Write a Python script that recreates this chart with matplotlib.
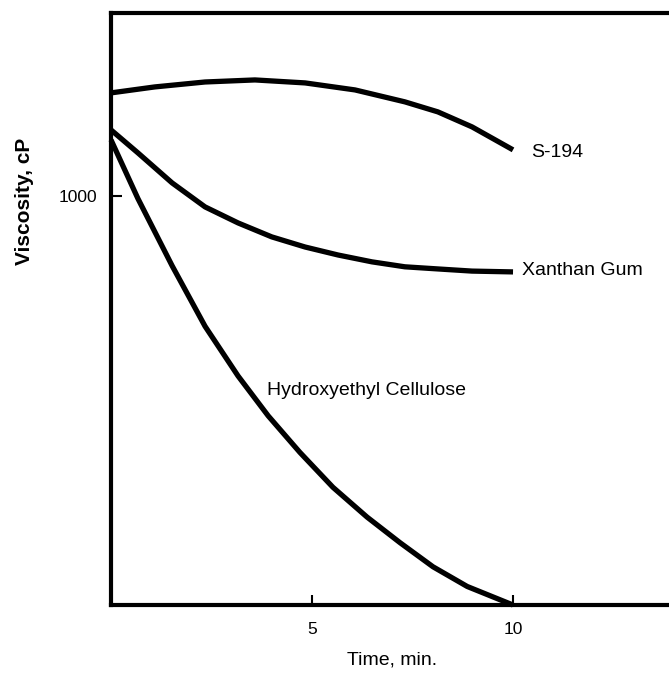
import matplotlib
matplotlib.use("Agg")
import matplotlib.pyplot as plt

plt.rcParams['font.family'] = ['Liberation Sans', 'DejaVu Sans']

# Data (time in min, viscosity in cP, log scale)
s194_t = [0, 1.09, 2.34, 3.58, 4.83, 6.07, 7.31, 8.13, 8.98, 10.0]
s194_v = [1786, 1847, 1899, 1921, 1889, 1816, 1698, 1605, 1475, 1296]

xan_t = [0, 0.67, 1.52, 2.34, 3.16, 4.0, 4.83, 5.65, 6.49, 7.31, 8.13, 8.98, 10.0]
xan_v = [1450, 1274, 1076, 940, 859, 794, 750, 717, 690, 671, 663, 655, 652]

hec_t = [0, 0.67, 1.52, 2.34, 3.16, 3.91, 4.70, 5.52, 6.37, 7.19, 8.01, 8.86, 10.0]
hec_v = [1371, 985, 675, 480, 363, 290, 236, 194, 164, 142, 124, 111, 100]

x_ticks = [5, 10]
x_ticklabels = ["5", "10"]
y_ticks = [1000]
y_ticklabels = ["1000"]

fig = plt.figure(figsize=(6.69, 6.78), dpi=100)
ax = fig.add_axes([111/669, 73/678, 558/669, 592/678])
ax.set_yscale('log')
ax.set_xlim(0, 13.88)
ax.set_ylim(100, 2800)

lw = 3.8
for t, v in [(s194_t, s194_v), (xan_t, xan_v), (hec_t, hec_v)]:
    ax.plot(t, v, color='black', lw=lw, solid_capstyle='butt',
            solid_joinstyle='round', clip_on=False)

for side in ['left', 'bottom', 'top']:
    ax.spines[side].set_linewidth(3.0)
ax.spines['right'].set_visible(False)

ax.set_xticks(x_ticks)
ax.set_xticklabels(x_ticklabels)
ax.yaxis.set_minor_locator(matplotlib.ticker.NullLocator())
ax.set_yticks(y_ticks)
ax.set_yticklabels(y_ticklabels)
ax.tick_params(axis='x', direction='in', length=7, width=1.5, pad=12, labelsize=12.5)
ax.tick_params(axis='y', direction='in', length=8, width=1.5, pad=10, labelsize=12.5)

ax.text(10.45, 1274, "S-194", fontsize=14, va='center', ha='left')
ax.text(10.22, 659, "Xanthan Gum", fontsize=14, va='center', ha='left')
ax.text(3.88, 335, "Hydroxyethyl Cellulose", fontsize=14, va='center', ha='left')

fig.text(25/669, 1 - 201/678, "Viscosity, cP", rotation=90, fontsize=15,
         fontweight='bold', ha='center', va='center')
fig.text(392/669, 1 - 660/678, "Time, min.", fontsize=14, ha='center', va='center')

fig.savefig("out.png", dpi=100)
